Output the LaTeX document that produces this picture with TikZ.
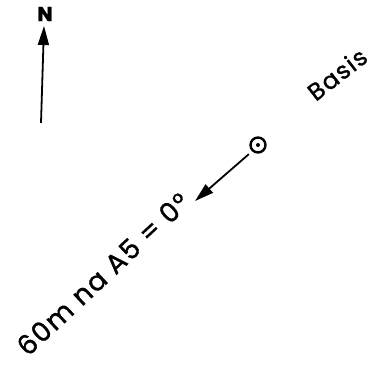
\documentclass[tikz,border=0pt]{standalone}
\usepackage{fontspec}
\setmainfont{Poppins}
\newfontfamily\lblfont{Poppins}[FakeBold=1.2,LetterSpace=6]
\newfontfamily\nfont{Poppins}[FakeBold=2]
\usetikzlibrary{arrows.meta}
\tikzset{
  lbl/.style={inner sep=0pt, font=\lblfont\fontsize{#1}{#1}\selectfont},
  ptr/.style={line width=1.8pt, -{Triangle[length=19pt,width=11pt]}},
}
\begin{document}
\begin{tikzpicture}[x=1pt,y=-1pt]
\useasboundingbox (0,0) rectangle (386,369);
% North arrow
\coordinate (nb) at (41,123);
\node[inner sep=0pt, font=\nfont\bfseries\fontsize{20}{20}\selectfont] (N) at (45,14) {N};
\coordinate (nt) at (44,26);
\draw[ptr] (nb) -- (nt);
% Basis marker
\node[circle, draw, line width=2.4pt, minimum size=15pt, inner sep=0pt] (c) at (258,145) {};
\fill (c.center) circle (2pt);
\coordinate (tip) at (195,201);
\draw[ptr] (c.south west) ++(-3,3) coordinate (s) -- (tip);
% Labels
\node[lbl=24, rotate=38] (basis) at (337,74) {Basis};
\node[lbl=27, rotate=43] (txt) at (103,274) {60m na A5 = 0°};
\end{tikzpicture}
\end{document}
